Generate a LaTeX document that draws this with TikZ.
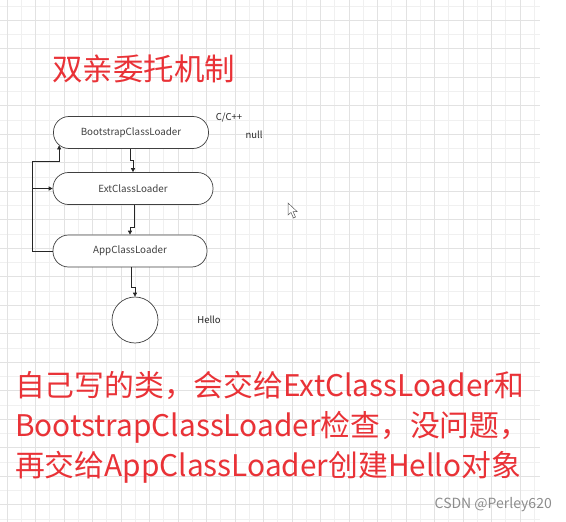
\documentclass[tikz,border=0pt]{standalone}
\usepackage{fontspec}
\setmainfont{Noto Sans CJK SC}
\usepackage{tikz}
\usetikzlibrary{positioning,calc,arrows.meta}
\definecolor{notered}{RGB}{233,50,55}
\definecolor{gridminor}{RGB}{240,240,240}
\definecolor{gridmajor}{RGB}{226,226,226}

\begin{document}
\begin{tikzpicture}[x=1pt, y=-1pt,
    loader/.style={rectangle, rounded corners=15.5pt, draw=black!75, fill=white, line width=0.7pt, minimum width=155pt, minimum height=32pt, align=center, font=\fontsize{9.8}{11}\selectfont, text=black!75},
    obj/.style={circle, draw=black!75, fill=white, line width=0.7pt, minimum size=46pt, inner sep=0pt},
    note/.style={font=\fontsize{9.5}{11}\selectfont, text=black!85, inner sep=0pt},
    redtext/.style={text=notered, inner sep=0pt, align=left},
    arrow/.style={-{Triangle[length=4pt,width=4pt]}, draw=black!85, line width=0.7pt}
]
    \useasboundingbox (0,0) rectangle (566,522);

    % Background grid
    \foreach \i in {1,3,...,37}
        \draw [gridminor, line width=0.6pt] ({7+14.25*\i},0) -- ({7+14.25*\i},522);
    \foreach \j in {0,2,...,36}
        \draw [gridminor, line width=0.6pt] (0,{6+14.25*\j}) -- (540,{6+14.25*\j});
    \foreach \i in {0,2,...,36}
        \draw [gridmajor, line width=0.6pt] ({7+14.25*\i},0) -- ({7+14.25*\i},522);
    \foreach \j in {1,3,...,35}
        \draw [gridmajor, line width=0.6pt] (0,{6+14.25*\j}) -- (540,{6+14.25*\j});

    % Title
    \node (title) at (52,69) [redtext, anchor=west, font=\fontsize{30.5}{34}\selectfont] {双亲委托机制};

    % Loader chain
    \node (boot) at (131,132.5) [loader] {BootstrapClassLoader};
    \node (ext) at (133,188.5) [loader, minimum width=160pt] {ExtClassLoader};
    \node (app) at (130,251) [loader, minimum width=154pt] {AppClassLoader};
    \node (hello) at (135,320) [obj] {};

    % Side notes
    \node (cpp) at (229,118) [note] {C/C++};
    \node (null) at (254,135) [note] {null};
    \node (obj) at (209,320) [note] {Hello};

    % Downward connectors
    \draw [arrow] ([xshift=-1pt]boot.south) -- ++(0,11) -| (ext.north);
    \draw [arrow] ([xshift=1pt]ext.south) -- ++(0,22) -| (app.north);
    \draw [arrow] ([xshift=1pt]app.south) -- ++(0,20) -| (hello.north);

    % Upward feedback loop
    \coordinate (back) at ($(app.west)+(-20,0)$);
    \coordinate (turn) at ($(boot.south west)+(6,12)$);
    \draw [arrow] (app.west) -- (back) |- (turn) -- ($(boot.south west)+(6,-3.5)$);
    \draw [arrow] (back |- ext.west) -- (ext.west);

    % Mouse pointer
    \draw [black!65, fill=white, line width=0.5pt] (288,203) -- (288,215) -- (291,212.5) -- (293.5,218) -- (295.5,217) -- (293,211.5) -- (297,211.5) -- cycle;

    % Bottom explanation
    \node (desc) at (15,427) [redtext, anchor=west, font=\fontsize{29.8}{40}\selectfont] {自己写的类，会交给ExtClassLoader和\\BootstrapClassLoader检查，没问题，\\再交给AppClassLoader创建Hello对象};

    % Watermark
    \node (mark) at (552,505) [anchor=east, text=black!45, font=\fontsize{14}{16}\selectfont, inner sep=0pt] {CSDN @Perley620};

\end{tikzpicture}
\end{document}
